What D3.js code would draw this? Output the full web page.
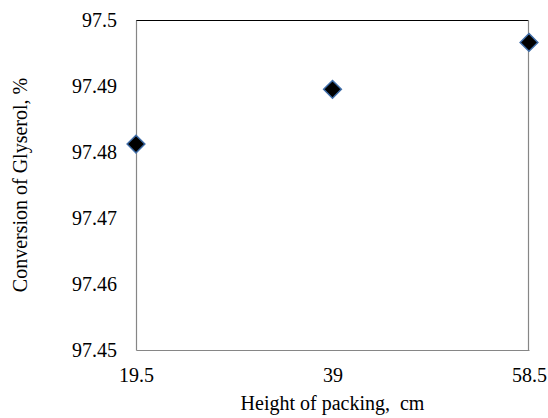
<!DOCTYPE html>
<html>
<head>
<meta charset="utf-8">
<script src="https://cdn.jsdelivr.net/npm/d3@7"></script>
<style>
  body { margin: 0; background: #fff; }
</style>
</head>
<body>
<script>
// data
var heights = [19.5, 39, 58.5];
var conversion = [97.4812, 97.4895, 97.4966];
var yTicks = [97.45, 97.46, 97.47, 97.48, 97.49, 97.5];

var W = 548, H = 418;
var plotL = 136, plotR = 529, plotT = 20, plotB = 350;
var serif = "'Liberation Serif', 'Times New Roman', Times, serif";

var svg = d3.select('body').append('svg')
    .attr('width', W)
    .attr('height', H);

var x = d3.scaleLinear().domain([19.5, 58.5]).range([plotL, plotR]);
var y = d3.scaleLinear().domain([97.45, 97.5]).range([plotB, plotT]);

// plot area frame: top black, right gray
svg.append('line').attr('x1', plotL).attr('x2', plotR).attr('y1', plotT + 0.5).attr('y2', plotT + 0.5)
    .attr('stroke', '#000').attr('stroke-width', 1);
svg.append('line').attr('x1', plotR - 0.5).attr('x2', plotR - 0.5).attr('y1', plotT).attr('y2', plotB)
    .attr('stroke', '#868686').attr('stroke-width', 1.2);

var yAxis = d3.axisLeft(y).tickValues(yTicks).tickSize(0).tickPadding(19)
    .tickFormat(function(d) { return d3.format('')(+d.toFixed(2)); });
var gy = svg.append('g').attr('transform', 'translate(' + plotL + ',0)').call(yAxis)
    .attr('font-family', null).attr('font-size', null);
gy.select('.domain').attr('stroke', '#868686').attr('stroke-width', 1.2);
gy.selectAll('text').style('font-family', serif).style('font-size', '20px').attr('fill', '#000');

var xAxis = d3.axisBottom(x).tickValues(heights).tickSize(0).tickPadding(18)
    .tickFormat(d3.format(''));
var gx = svg.append('g').attr('transform', 'translate(0,' + plotB + ')').call(xAxis)
    .attr('font-family', null).attr('font-size', null);
gx.select('.domain').attr('stroke', '#868686').attr('stroke-width', 1.2);
gx.selectAll('text').style('font-family', serif).style('font-size', '20px').attr('fill', '#000');

// markers
var diamond = d3.symbol().type(d3.symbolDiamond2).size(200);
svg.selectAll('path.pt')
    .data(heights.map(function(h, i) { return [h, conversion[i]]; }))
    .enter().append('path')
    .attr('class', 'pt')
    .attr('d', diamond)
    .attr('transform', function(d) { return 'translate(' + x(d[0]) + ',' + y(d[1]) + ')'; })
    .attr('fill', '#000')
    .attr('stroke', '#3f6da8')
    .attr('stroke-width', 1.5);

// axis titles
svg.append('text')
    .attr('x', (plotL + plotR) / 2)
    .attr('y', 410)
    .attr('text-anchor', 'middle')
    .style('font-family', serif)
    .style('font-size', '20px')
    .style('white-space', 'pre')
    .text('Height of packing,  cm');

svg.append('text')
    .attr('transform', 'translate(27,' + (plotT + plotB) / 2 + ') rotate(-90)')
    .attr('text-anchor', 'middle')
    .style('font-family', serif)
    .style('font-size', '20px')
    .text('Conversion of Glyserol, %');
</script>
</body>
</html>
